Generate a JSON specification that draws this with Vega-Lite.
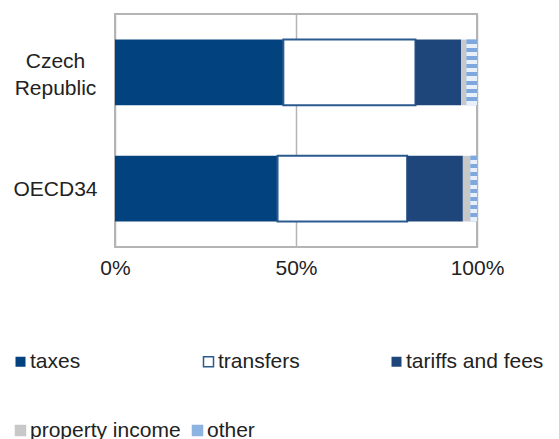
{
  "$schema": "https://vega.github.io/schema/vega-lite/v6.json",
  "autosize": "none",
  "padding": {"left": 115, "top": 14, "right": 82, "bottom": 192},
  "width": 362,
  "height": 233,
  "config": {
    "font": "Liberation Sans",
    "view": {"stroke": "#b4b4b4", "strokeWidth": 2},
    "axis": {"labelFont": "Liberation Sans", "labelColor": "#222222"}
  },
  "data": {
    "values": [
      {"region": "Czech Republic", "source": "taxes", "order": 1, "share": 0.465},
      {"region": "Czech Republic", "source": "transfers", "order": 2, "share": 0.365},
      {"region": "Czech Republic", "source": "tariffs and fees", "order": 3, "share": 0.126},
      {"region": "Czech Republic", "source": "property income", "order": 4, "share": 0.015},
      {"region": "Czech Republic", "source": "other", "order": 5, "share": 0.029},
      {"region": "OECD34", "source": "taxes", "order": 1, "share": 0.449},
      {"region": "OECD34", "source": "transfers", "order": 2, "share": 0.358},
      {"region": "OECD34", "source": "tariffs and fees", "order": 3, "share": 0.154},
      {"region": "OECD34", "source": "property income", "order": 4, "share": 0.021},
      {"region": "OECD34", "source": "other", "order": 5, "share": 0.018}
    ]
  },
  "transform": [
    {"stack": "share", "groupby": ["region"], "sort": [{"field": "order", "order": "ascending"}], "as": ["x0", "x1"], "offset": "normalize"}
  ],
  "encoding": {
    "y": {
      "field": "region",
      "type": "nominal",
      "sort": ["Czech Republic", "OECD34"],
      "scale": {"paddingInner": 0.435, "paddingOuter": 0.22},
      "axis": {
        "title": null,
        "ticks": false,
        "tickSize": 0,
        "domain": false,
        "labelAlign": "center",
        "labelPadding": 60,
        "labelFontSize": 21,
        "labelLineHeight": 27,
        "labelOffset": {"condition": {"test": "datum.value == 'Czech Republic'", "value": -10}, "value": 1},
        "labelExpr": "datum.value == 'Czech Republic' ? ['Czech', 'Republic'] : datum.label"
      }
    },
    "x": {
      "field": "x0",
      "type": "quantitative",
      "scale": {"domain": [0, 1]},
      "axis": {
        "title": null,
        "values": [0, 0.5, 1],
        "format": "%",
        "ticks": false,
        "tickSize": 0,
        "domain": false,
        "labelPadding": 10,
        "labelFontSize": 21,
        "labelFlush": false,
        "gridColor": "#b4b4b4",
        "gridWidth": 1.5
      }
    },
    "x2": {"field": "x1"}
  },
  "layer": [
    {
      "mark": {"type": "bar"},
      "encoding": {
        "strokeWidth": {"condition": {"test": "datum.source === 'transfers'", "value": 2}, "value": 0},
        "fill": {
          "field": "source",
          "type": "nominal",
          "scale": {
            "domain": ["taxes", "transfers", "tariffs and fees", "property income", "other"],
            "range": ["#02437f", "#ffffff", "#1f467b", "#c8c8c8", "#8db3e2"]
          },
          "legend": {
            "title": null,
            "orient": "none",
            "direction": "horizontal",
            "values": ["taxes", "transfers", "tariffs and fees"],
            "legendX": -105,
            "legendY": 337,
            "columns": 3,
            "gridAlign": "all",
            "columnPadding": 30,
            "padding": 0,
            "symbolType": "square",
            "symbolSize": 100,
            "symbolStrokeWidth": 1.5,
            "labelFontSize": 21,
            "labelFont": "Liberation Sans",
            "labelColor": "#222222",
            "labelOffset": -1,
            "labelLimit": 300,
            "encode": {
              "symbols": {
                "update": {
                  "stroke": [{"test": "datum.value === 'transfers'", "value": "#2b5a8f"}, {"value": "transparent"}],
                  "strokeWidth": {"value": 1.5}
                }
              }
            }
          }
        },
        "stroke": {
          "field": "source",
          "type": "nominal",
          "scale": {
            "domain": ["property income", "other", "taxes", "transfers", "tariffs and fees"],
            "range": ["#c8c8c8", "#8db3e2", "#02437f", "#2b5a8f", "#1f467b"]
          },
          "legend": {
            "title": null,
            "orient": "none",
            "direction": "horizontal",
            "values": ["property income", "other"],
            "legendX": -105,
            "legendY": 406,
            "columns": 2,
            "gridAlign": "none",
            "columnPadding": 6,
            "padding": 0,
            "symbolType": "square",
            "symbolSize": 100,
            "symbolStrokeWidth": 1.5,
            "symbolFillColor": "#c8c8c8",
            "labelFontSize": 21,
            "labelFont": "Liberation Sans",
            "labelColor": "#222222",
            "labelOffset": -1,
            "labelLimit": 300,
            "encode": {
              "symbols": {
                "update": {
                  "fill": [{"test": "datum.value === 'other'", "value": "#8db3e2"}, {"value": "#c8c8c8"}]
                }
              }
            }
          }
        }
      }
    },
    {
      "transform": [{"filter": "datum.source === 'other'"}],
      "mark": {
        "type": "bar",
        "fill": {
          "gradient": "linear",
          "x1": 0, "y1": 0, "x2": 0, "y2": 1,
          "stops": [
            {"offset": 0, "color": "#7fa8de"}, {"offset": 0.0625, "color": "#7fa8de"},
            {"offset": 0.0625, "color": "#e8f0fa"}, {"offset": 0.125, "color": "#e8f0fa"},
            {"offset": 0.125, "color": "#7fa8de"}, {"offset": 0.1875, "color": "#7fa8de"},
            {"offset": 0.1875, "color": "#e8f0fa"}, {"offset": 0.25, "color": "#e8f0fa"},
            {"offset": 0.25, "color": "#7fa8de"}, {"offset": 0.3125, "color": "#7fa8de"},
            {"offset": 0.3125, "color": "#e8f0fa"}, {"offset": 0.375, "color": "#e8f0fa"},
            {"offset": 0.375, "color": "#7fa8de"}, {"offset": 0.4375, "color": "#7fa8de"},
            {"offset": 0.4375, "color": "#e8f0fa"}, {"offset": 0.5, "color": "#e8f0fa"},
            {"offset": 0.5, "color": "#7fa8de"}, {"offset": 0.5625, "color": "#7fa8de"},
            {"offset": 0.5625, "color": "#e8f0fa"}, {"offset": 0.625, "color": "#e8f0fa"},
            {"offset": 0.625, "color": "#7fa8de"}, {"offset": 0.6875, "color": "#7fa8de"},
            {"offset": 0.6875, "color": "#e8f0fa"}, {"offset": 0.75, "color": "#e8f0fa"},
            {"offset": 0.75, "color": "#7fa8de"}, {"offset": 0.8125, "color": "#7fa8de"},
            {"offset": 0.8125, "color": "#e8f0fa"}, {"offset": 0.875, "color": "#e8f0fa"},
            {"offset": 0.875, "color": "#7fa8de"}, {"offset": 0.9375, "color": "#7fa8de"},
            {"offset": 0.9375, "color": "#e8f0fa"}, {"offset": 1, "color": "#e8f0fa"}
          ]
        }
      }
    }
  ]
}
